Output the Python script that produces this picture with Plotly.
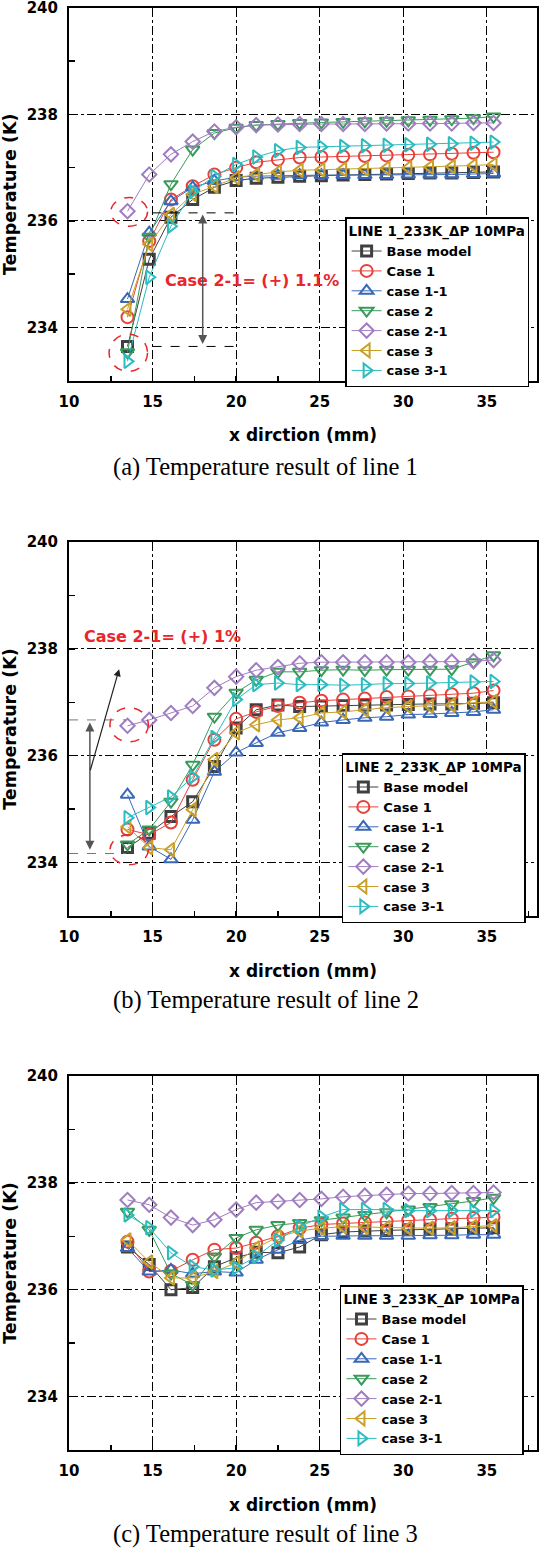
import plotly.graph_objects as go

# ---------------- data ----------------
x_mm = [13.5, 14.8, 16.1, 17.4, 18.7, 20.0, 21.2, 22.5, 23.8, 25.1,
        26.4, 27.7, 29.0, 30.3, 31.6, 32.9, 34.2, 35.4]

series_names = ["Base model", "Case 1", "case 1-1", "case 2", "case 2-1", "case 3", "case 3-1"]

# Line 1
l1_base = [233.64, 235.28, 236.07, 236.40, 236.63, 236.76, 236.80, 236.82, 236.84, 236.85, 236.86, 236.87, 236.88, 236.89, 236.90, 236.90, 236.91, 236.92]
l1_c1 = [234.19, 235.62, 236.40, 236.65, 236.87, 237.00, 237.10, 237.15, 237.19, 237.20, 237.21, 237.22, 237.23, 237.24, 237.25, 237.26, 237.28, 237.29]
l1_c11 = [234.53, 235.78, 236.37, 236.63, 236.75, 236.82, 236.84, 236.85, 236.86, 236.86, 236.86, 236.86, 236.86, 236.87, 236.87, 236.87, 236.88, 236.89]
l1_c2 = [233.53, 235.70, 236.69, 237.34, 237.65, 237.75, 237.80, 237.82, 237.84, 237.85, 237.86, 237.87, 237.88, 237.89, 237.90, 237.91, 237.93, 237.96]
l1_c21 = [236.18, 236.87, 237.25, 237.49, 237.68, 237.76, 237.80, 237.81, 237.82, 237.82, 237.82, 237.82, 237.83, 237.83, 237.83, 237.83, 237.84, 237.84]
l1_c3 = [234.34, 235.56, 236.12, 236.50, 236.65, 236.81, 236.87, 236.92, 236.95, 236.96, 236.97, 236.98, 236.99, 237.00, 237.01, 237.02, 237.04, 237.06]
l1_c31 = [233.36, 234.94, 235.90, 236.55, 236.84, 237.06, 237.20, 237.32, 237.38, 237.39, 237.40, 237.41, 237.42, 237.43, 237.44, 237.45, 237.46, 237.48]

# Line 2
l2_base = [234.28, 234.55, 234.86, 235.14, 235.80, 236.52, 236.86, 236.95, 236.92, 236.93, 236.94, 236.95, 236.95, 236.96, 236.97, 236.97, 236.98, 236.99]
l2_c1 = [234.62, 234.52, 234.75, 235.55, 236.30, 236.69, 236.82, 236.93, 236.99, 237.03, 237.05, 237.07, 237.10, 237.11, 237.13, 237.15, 237.17, 237.22]
l2_c11 = [235.27, 234.30, 234.06, 234.80, 235.70, 236.06, 236.24, 236.43, 236.52, 236.62, 236.67, 236.71, 236.73, 236.77, 236.78, 236.80, 236.82, 236.86]
l2_c2 = [234.34, 234.62, 235.14, 235.83, 236.73, 237.18, 237.42, 237.57, 237.57, 237.60, 237.61, 237.60, 237.61, 237.61, 237.61, 237.62, 237.75, 237.88]
l2_c21 = [236.56, 236.67, 236.80, 236.93, 237.27, 237.48, 237.60, 237.66, 237.73, 237.75, 237.75, 237.75, 237.75, 237.75, 237.76, 237.76, 237.77, 237.79]
l2_c3 = [234.67, 234.28, 234.24, 234.99, 235.93, 236.43, 236.58, 236.67, 236.71, 236.80, 236.82, 236.86, 236.90, 236.92, 236.93, 236.95, 236.99, 237.01]
l2_c31 = [234.84, 235.03, 235.23, 235.60, 236.34, 237.05, 237.33, 237.36, 237.33, 237.33, 237.32, 237.33, 237.35, 237.35, 237.36, 237.37, 237.38, 237.39]

# Line 3
l3_base = [236.80, 236.47, 236.00, 236.04, 236.43, 236.60, 236.70, 236.69, 236.80, 237.03, 237.08, 237.10, 237.11, 237.12, 237.13, 237.14, 237.15, 237.16]
l3_c1 = [236.90, 236.34, 236.35, 236.56, 236.75, 236.78, 236.88, 237.00, 237.15, 237.22, 237.24, 237.26, 237.28, 237.30, 237.31, 237.33, 237.34, 237.36]
l3_c11 = [236.78, 236.34, 236.37, 236.30, 236.34, 236.32, 236.56, 236.75, 236.93, 237.00, 237.01, 237.01, 237.01, 237.01, 237.02, 237.02, 237.03, 237.03]
l3_c2 = [237.46, 237.12, 236.30, 236.09, 236.62, 236.97, 237.12, 237.21, 237.25, 237.30, 237.35, 237.40, 237.45, 237.50, 237.55, 237.60, 237.66, 237.72]
l3_c21 = [237.68, 237.59, 237.35, 237.21, 237.31, 237.50, 237.63, 237.65, 237.68, 237.70, 237.74, 237.76, 237.78, 237.80, 237.80, 237.81, 237.81, 237.82]
l3_c3 = [236.93, 236.52, 236.22, 236.22, 236.34, 236.50, 236.78, 236.99, 237.10, 237.15, 237.18, 237.17, 237.16, 237.15, 237.15, 237.16, 237.18, 237.20]
l3_c31 = [237.40, 237.16, 236.69, 236.43, 236.37, 236.41, 236.62, 236.93, 237.18, 237.36, 237.50, 237.50, 237.50, 237.48, 237.48, 237.48, 237.48, 237.48]

legend_titles = ["LINE 1_233K_ΔP 10MPa", "LINE 2_233K_ΔP 10MPa", "LINE 3_233K_ΔP 10MPa"]
captions = ["(a) Temperature result of line 1", "(b) Temperature result of line 2",
            "(c) Temperature result of line 3"]
x_ticks = [10, 15, 20, 25, 30, 35]
y_ticks = [234, 236, 238, 240]

# ---------------- styles ----------------
colors = ["#404040", "#E8413C", "#3A68B8", "#3A9A5A", "#A07CC0", "#C9A02A", "#2BBCC0"]
symbols = ["square-open", "circle-open", "triangle-up-open", "triangle-down-open",
           "diamond-open", "triangle-left-open", "triangle-right-open"]
sizes = [10, 12, 12, 12, 11, 12, 12]
mlw = [3, 2, 2, 2, 2, 2, 2]

panels = [
    [l1_base, l1_c1, l1_c11, l1_c2, l1_c21, l1_c3, l1_c31],
    [l2_base, l2_c1, l2_c11, l2_c2, l2_c21, l2_c3, l2_c31],
    [l3_base, l3_c1, l3_c11, l3_c2, l3_c21, l3_c3, l3_c31],
]

H = 1549
W = 539
frames = [(8, 380.5), (542, 916), (1076, 1450)]
legend_pos = [(0.59, 217), (0.583, 753), (0.579, 1285)]
caption_y = [467, 1000, 1534]

FONT = "DejaVu Sans"

fig = go.Figure()
for p, series in enumerate(panels):
    sfx = "" if p == 0 else str(p + 1)
    for i, ys in enumerate(series):
        fig.add_trace(go.Scatter(
            x=x_mm, y=ys, mode="lines+markers", name=series_names[i],
            xaxis="x" + sfx, yaxis="y" + sfx, legend="legend" + sfx,
            line=dict(color=colors[i], width=1),
            marker=dict(symbol=symbols[i], size=sizes[i], color=colors[i],
                        line=dict(color=colors[i], width=mlw[i])),
        ))

layout = dict(
    width=W, height=H, paper_bgcolor="white", plot_bgcolor="white",
    margin=dict(l=69, r=2, t=0, b=0),
    font=dict(family=FONT, color="black"),
    showlegend=True,
)

for p in range(3):
    sfx = "" if p == 0 else str(p + 1)
    top, bot = frames[p]
    dom = [1 - bot / H, 1 - top / H]
    ax_common = dict(showline=True, linewidth=2, linecolor="black", mirror=True,
                     showgrid=True, gridcolor="black", gridwidth=1, griddash="dashdot",
                     ticks="inside", ticklen=5, tickwidth=1.5, tickcolor="black",
                     zeroline=False, automargin=False, ticklabeloverflow="allow",
                     tickfont=dict(family=FONT, size=15, weight="bold", color="black"))
    layout["xaxis" + sfx] = dict(
        ax_common, range=[10, 38], tickvals=x_ticks, anchor="y" + sfx,
        minor=dict(ticks="inside", dtick=2.5, tick0=10, ticklen=5, tickwidth=1.5,
                   tickcolor="black", showgrid=False),
        ticklabelstandoff=6,
        title=dict(text="x dirction (mm)", standoff=20,
                   font=dict(family=FONT, size=17, weight="bold", color="black")),
    )
    layout["yaxis" + sfx] = dict(
        ax_common, range=[233, 240], tickvals=y_ticks, anchor="x" + sfx, domain=dom,
        minor=dict(ticks="inside", dtick=1, tick0=233, ticklen=6, tickwidth=1.5,
                   tickcolor="black", showgrid=False),
        ticklabelstandoff=6,
        title=dict(text="Temperature (K)", standoff=6,
                   font=dict(family=FONT, size=17.5, weight="bold", color="black")),
    )
    lx, ltop = legend_pos[p]
    layout["legend" + sfx] = dict(
        x=lx, y=1 - ltop / H, xanchor="left", yanchor="top",
        bgcolor="white", bordercolor="black", borderwidth=1.5,
        font=dict(family=FONT, size=13, weight="bold", color="black"),
        title=dict(text=legend_titles[p], font=dict(family=FONT, size=13.5, weight="bold", color="black")),
        tracegroupgap=0,
    )

fig.update_layout(**layout)

anns = []
shapes = []
for p in range(3):
    anns.append(dict(text=captions[p], xref="paper", yref="paper", x=0.42,
                     y=1 - caption_y[p] / H, xanchor="center", yanchor="middle",
                     showarrow=False,
                     font=dict(family="Liberation Serif", size=24.5, color="black")))

RED = "#E8262B"
# panel 1 annotations
anns.append(dict(text="Case 2-1= (+) 1.1%", x=15.6, y=234.88, xref="x", yref="y",
                 xanchor="left", yanchor="middle", showarrow=False,
                 font=dict(family=FONT, size=16, weight="bold", color=RED)))
anns.append(dict(text="", x=18.0, y=236.12, ax=18.0, ay=233.66, xref="x", yref="y",
                 axref="x", ayref="y", showarrow=True, arrowhead=2, arrowside="end+start",
                 arrowsize=1.2, arrowwidth=1.5, arrowcolor="#555555"))
shapes += [
    dict(type="circle", xref="x", yref="y", x0=12.5, x1=14.7, y0=235.9, y1=236.44,
         line=dict(color=RED, width=1.5, dash="dash")),
    dict(type="circle", xref="x", yref="y", x0=12.4, x1=14.7, y0=233.17, y1=233.87,
         line=dict(color=RED, width=1.5, dash="dash")),
    dict(type="line", xref="x", yref="y", x0=15.0, x1=20.0, y0=236.15, y1=236.15,
         line=dict(color="black", width=1, dash="dash")),
    dict(type="line", xref="x", yref="y", x0=15.0, x1=20.0, y0=233.64, y1=233.64,
         line=dict(color="black", width=1, dash="dash")),
]
# panel 2 annotations
anns.append(dict(text="Case 2-1= (+) 1%", x=10.75, y=238.24, xref="x2", yref="y2",
                 xanchor="left", yanchor="middle", showarrow=False,
                 font=dict(family=FONT, size=16, weight="bold", color=RED)))
anns.append(dict(text="", x=11.25, y=236.62, ax=11.25, ay=234.21, xref="x2", yref="y2",
                 axref="x2", ayref="y2", showarrow=True, arrowhead=2, arrowside="end+start",
                 arrowsize=1.2, arrowwidth=1.5, arrowcolor="#555555"))
anns.append(dict(text="", x=13.0, y=237.62, ax=11.25, ay=235.7, xref="x2", yref="y2",
                 axref="x2", ayref="y2", showarrow=True, arrowhead=2,
                 arrowsize=1.2, arrowwidth=1.2, arrowcolor="#222222"))
shapes += [
    dict(type="circle", xref="x2", yref="y2", x0=12.45, x1=14.75, y0=236.26, y1=236.9,
         line=dict(color=RED, width=1.5, dash="dash")),
    dict(type="circle", xref="x2", yref="y2", x0=12.45, x1=14.75, y0=233.96, y1=234.52,
         line=dict(color=RED, width=1.5, dash="dash")),
    dict(type="line", xref="x2", yref="y2", x0=10.0, x1=13.4, y0=236.67, y1=236.67,
         line=dict(color="#777777", width=1, dash="dash")),
    dict(type="line", xref="x2", yref="y2", x0=10.0, x1=13.4, y0=234.17, y1=234.17,
         line=dict(color="#777777", width=1, dash="dash")),
]

fig.update_layout(annotations=anns, shapes=shapes)
fig.write_html("out.html", config={"displayModeBar": False, "staticPlot": True},
               post_script="document.body.style.margin='0';document.body.style.overflow='hidden';")
